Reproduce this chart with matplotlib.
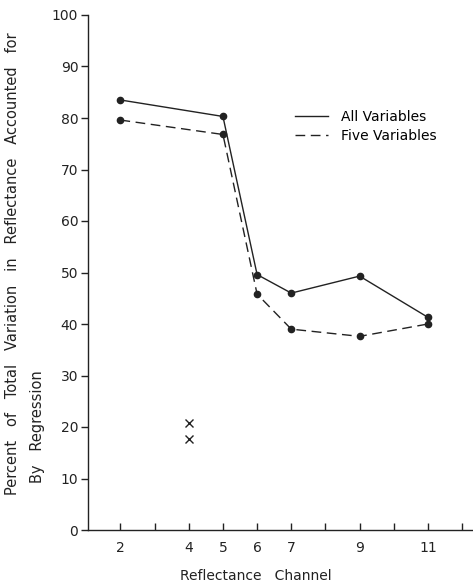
import matplotlib
matplotlib.use("Agg")
import matplotlib.pyplot as plt

channels = [2, 5, 6, 7, 9, 11]
all_vars = [83.5, 80.3, 49.6, 46.0, 49.3, 41.3]
five_vars = [79.6, 76.8, 45.8, 39.0, 37.6, 40.0]
x_marks_x = [4, 4]
x_marks_y = [20.8, 17.6]
xtick_pos = [2, 3, 4, 5, 6, 7, 8, 9, 10, 11, 12]
xtick_labels = ["2", "", "4", "5", "6", "7", "", "9", "", "11", ""]
ytick_pos = [0, 10, 20, 30, 40, 50, 60, 70, 80, 90, 100]

ink = "#222222"
plt.rcParams['font.family'] = ['DejaVu Sans']

fig = plt.figure(figsize=(4.73, 5.86), dpi=100)
ax = fig.add_axes([88/473, 1-530/586, 1-88/473, (530-15)/586])

ax.plot(channels, all_vars, '-', color=ink, lw=1.0, marker='o', ms=4.5,
        label="All Variables")
ax.plot(channels, five_vars, color=ink, lw=1.0, marker='o', ms=4.5,
        linestyle=(0, (7, 4)), label="Five Variables")
ax.plot(x_marks_x, x_marks_y, 'x', color=ink, ms=6, mew=1.0, linestyle='none')

ax.set_xlim(1.05, 12.32)
ax.set_ylim(0, 100)
ax.set_xticks(xtick_pos)
ax.set_xticklabels(xtick_labels, fontsize=10, color=ink)
ax.set_yticks(ytick_pos)
ax.set_yticklabels([str(v) for v in ytick_pos], fontsize=10, color=ink)
ax.tick_params(axis='x', direction='in', length=5, width=1, color=ink, pad=8)
ax.tick_params(axis='y', direction='out', length=5, width=1, color=ink, pad=2)
for s in ['top', 'right']:
    ax.spines[s].set_visible(False)
for s in ['left', 'bottom']:
    ax.spines[s].set_color(ink)
    ax.spines[s].set_linewidth(1.0)

ax.set_xlabel("Reflectance   Channel", fontsize=10, color=ink, labelpad=8)
ax.xaxis.set_label_coords((256-88)/385, -0.075)

fig.text(12.5/473, 1-495/586,
         "Percent   of   Total   Variation   in   Reflectance   Accounted   for",
         rotation=90, fontsize=10.5, color=ink, ha='center', va='bottom')
fig.text(37.5/473, 1-483/586, "By   Regression",
         rotation=90, fontsize=10.5, color=ink, ha='center', va='bottom')

leg = ax.legend(loc='upper left', bbox_to_anchor=(0.505, 0.84), frameon=False,
                fontsize=10, handlelength=2.4, handletextpad=0.9,
                labelspacing=0.35, markerscale=0)
for h in leg.legend_handles:
    h.set_marker('')

fig.savefig("out.png", dpi=100)
